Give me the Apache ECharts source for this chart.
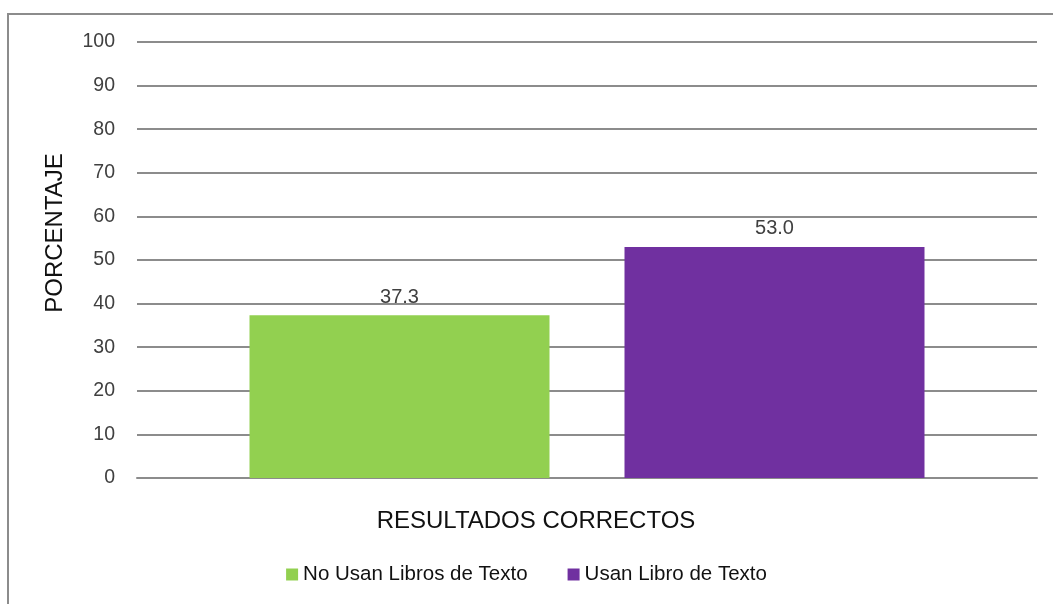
<!DOCTYPE html>
<html>
<head>
<meta charset="utf-8">
<script src="https://cdn.jsdelivr.net/npm/echarts@6/dist/echarts.min.js"></script>
<style>
  html, body { margin: 0; padding: 0; background: #fff; }
  #chart { width: 1053px; height: 604px; }
</style>
</head>
<body>
<div id="chart"></div>
<script>
  const categories = ['RESULTADOS CORRECTOS'];
  const seriesNames = ['No Usan Libros de Texto', 'Usan Libro de Texto'];
  const noUsanValues = [37.3];
  const usanValues = [53.0];
  const yTicks = { min: 0, max: 100, interval: 10 };

  const font = '"Liberation Sans", Arial, sans-serif';
  const textColor = '#404040';
  const lineColor = '#8c8c8c';

  const chart = echarts.init(document.getElementById('chart'));

  // bar value labels, same for both series
  const valueLabel = {
    show: true,
    position: 'top',
    distance: 8,
    formatter: p => p.value.toFixed(1),
    fontFamily: font,
    fontSize: 20,
    color: textColor
  };

  chart.setOption({
    animation: false,
    textStyle: { fontFamily: font },
    color: ['#92D050', '#7030A0'],
    graphic: [{
      type: 'rect',
      shape: { x: 8, y: 14, width: 1100, height: 700 },
      style: { fill: 'none', stroke: '#8c8c8c', lineWidth: 2 },
      silent: true
    }],
    grid: { left: 137, right: 16, top: 42, bottom: 126 },
    legend: {
      data: seriesNames,
      top: 559,
      left: 'center',
      icon: 'rect',
      itemWidth: 12,
      itemHeight: 12,
      itemGap: 40,
      textStyle: { fontFamily: font, fontSize: 20.5, color: '#111' }
    },
    xAxis: {
      type: 'category',
      data: categories,
      axisLine: { show: true, lineStyle: { color: lineColor, width: 2 } },
      axisTick: { show: false },
      axisLabel: {
        margin: 31,
        padding: [0, 102, 0, 0],
        fontFamily: font,
        fontSize: 24,
        color: '#111'
      }
    },
    yAxis: {
      type: 'value',
      min: yTicks.min,
      max: yTicks.max,
      interval: yTicks.interval,
      name: 'PORCENTAJE',
      nameLocation: 'middle',
      nameGap: 70,
      nameTextStyle: {
        fontFamily: font,
        fontSize: 24,
        color: '#111',
        padding: [0, 0, 0, 54]
      },
      axisLine: { show: false },
      axisTick: { show: false },
      axisLabel: { margin: 22, fontFamily: font, fontSize: 19.5, color: textColor },
      splitLine: { lineStyle: { color: lineColor, width: 2 } }
    },
    series: [
      {
        name: seriesNames[0],
        type: 'bar',
        data: noUsanValues,
        barWidth: 300,
        barGap: '25%',
        label: valueLabel
      },
      {
        name: seriesNames[1],
        type: 'bar',
        data: usanValues,
        barWidth: 300,
        barGap: '25%',
        label: valueLabel
      }
    ]
  });
</script>
</body>
</html>
